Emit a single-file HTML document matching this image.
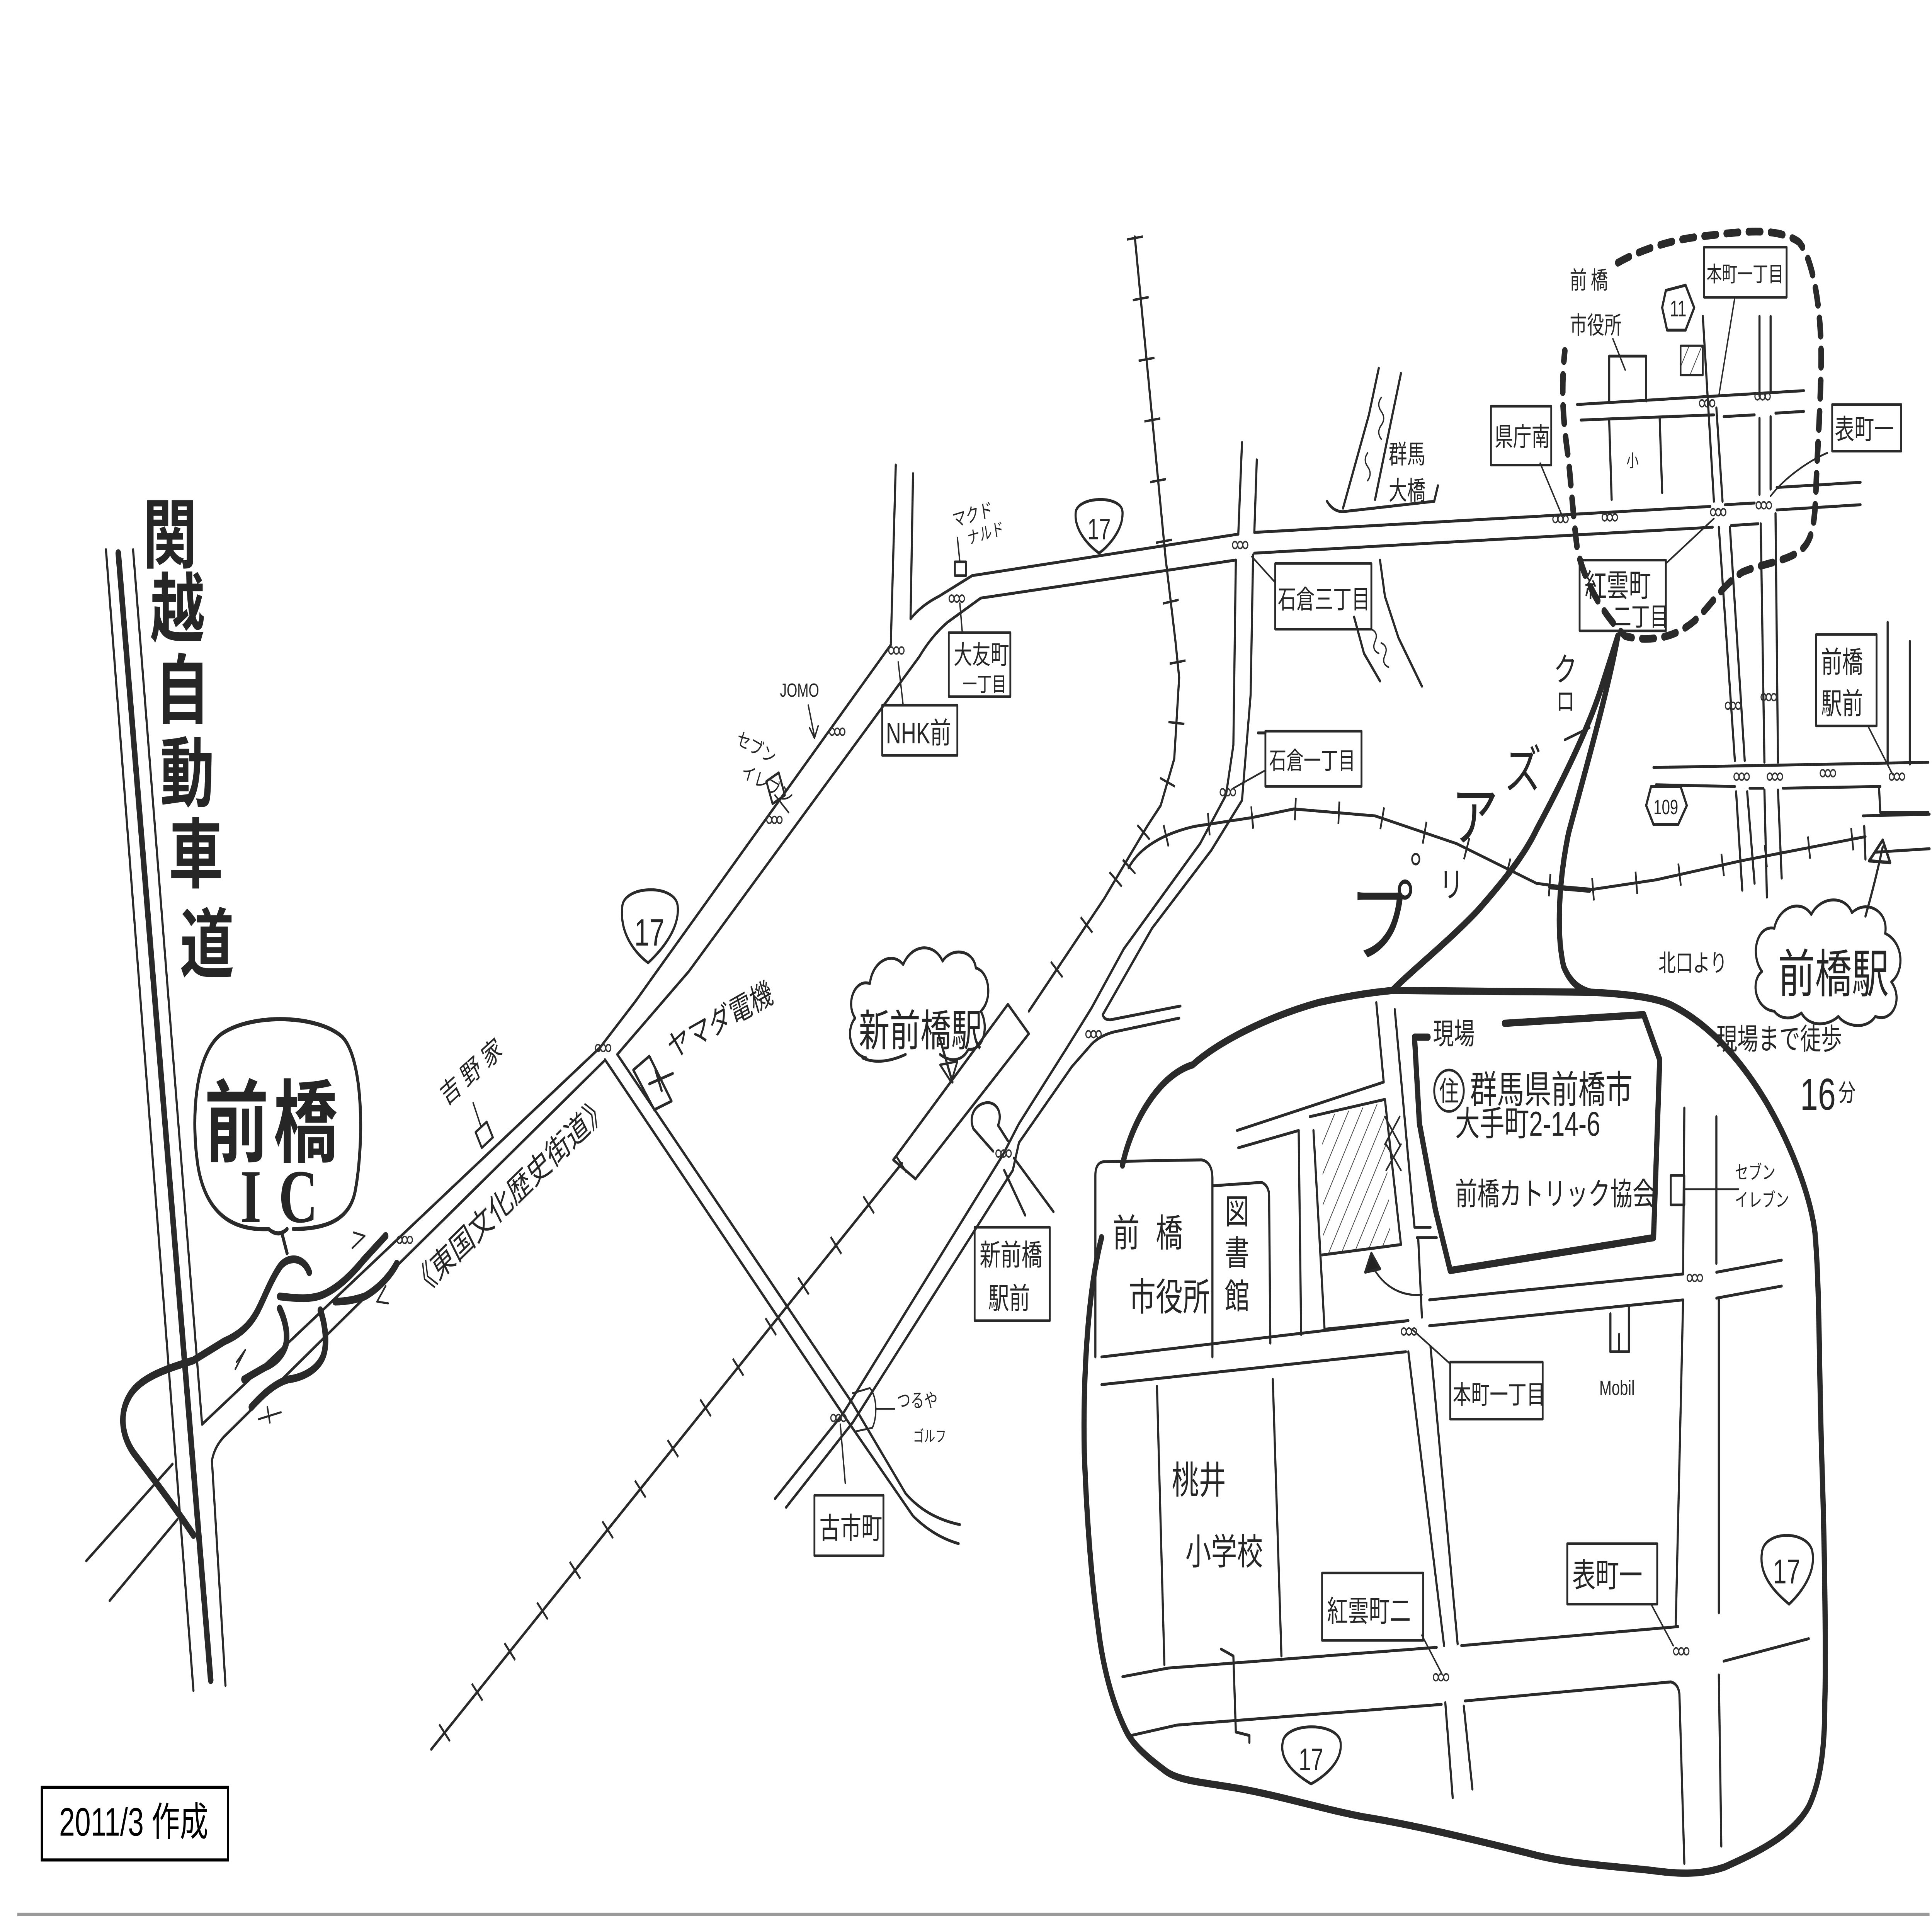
<!DOCTYPE html>
<html><head><meta charset="utf-8"><style>
html,body{margin:0;padding:0;background:#fff;width:100%;height:100%;overflow:hidden;}
svg{display:block;width:100vw;height:100vh;overflow:hidden;}
text{font-family:"Liberation Sans","Noto Sans CJK JP",sans-serif;fill:#262626;}
</style></head><body>
<svg xmlns="http://www.w3.org/2000/svg" viewBox="0 0 1568 1109" preserveAspectRatio="none">
<defs>
<g id="sg" fill="none" stroke="#333" stroke-width="0.9"><circle cx="2.3" cy="2.3" r="2"/><circle cx="6.5" cy="2.3" r="2"/><circle cx="10.7" cy="2.3" r="2"/></g>
<pattern id="ht" patternUnits="userSpaceOnUse" width="9" height="9" patternTransform="rotate(30)"><line x1="0" y1="0" x2="0" y2="9" stroke="#444" stroke-width="1.1"/></pattern>
</defs>
<rect width="1568" height="1109" fill="#fff"/>
<g fill="none" stroke="#2a2a2a" stroke-width="1.7" stroke-linecap="round" stroke-linejoin="round">
<!-- Kan-etsu expressway -->
<path d="M86,318 L157,978"/>
<path d="M96,320 L171,972" stroke-width="4.5"/>
<path d="M108,318 L164,824 L487,606 L516,579 L536,559 L723,373"/>
<path d="M183,975 L172,845 Q174,837 182,831 L490,614"/>
<path d="M501,610 L559,562 L746,380 Q756,368 769,360 L796,346 L1003,324"/>
<path d="M741,274 L739,358 Q748,350 762,345 L789,333 L1005,309"/>
<path d="M727,269 L723,372"/>
<path d="M70,903 L140,847"/>
<path d="M89,926 L144,879"/>
<!-- IC ramps -->
<g stroke-width="4.5">
<path d="M251,736 C247,728 236,726 228,732 C220,740 215,750 210,757 C204,766 195,772 182,776 L157,787 C135,792 112,797 104,809 C96,820 100,833 110,842 C125,856 142,872 157,888"/>
<path d="M227,750 C240,751 252,752 262,749 C275,745 287,736 295,729 L313,715"/>
<path d="M322,731 C316,739 306,746 296,750 C288,752 280,753 272,753"/>
<path d="M260,758 C264,766 266,778 262,785 C257,793 245,797 234,798 C224,800 214,806 204,814"/>
<path d="M227,757 C231,763 234,771 232,778 C229,785 222,789 215,791 L198,798"/>
</g>
<g stroke-width="1.2">
<path d="M287,713 L296,715 L286,722"/>
<path d="M306,753 L313,744 M306,753 L315,754"/>
<path d="M192,788 L199,781 L191,792"/>
<path d="M210,821 L228,817 M217,814 L219,823"/>
</g>
<!-- IC bubble -->
<path stroke-width="2.4" d="M238,711 C264,711 283,706 288,690 C295,665 296,614 278,600 C258,587 205,586 180,598 C157,610 155,650 161,676 C168,703 190,712 218,711"/>
<path stroke-width="2.4" d="M218,711 Q226,716 233,711 M229,714 L233,725"/>
<!-- shields -->
<path d="M505,525 C505,512 548,511 550,524 C552,538 535,551 526,557 C515,551 503,540 505,525 Z"/>
<path d="M873,297 C873,287 910,286 911,296 C912,307 898,317 892,320 C884,316 872,307 873,297 Z"/>
<path d="M1430,898 C1432,885 1468,885 1471,898 C1474,912 1458,924 1452,928 C1442,922 1427,912 1430,898 Z"/>
<path d="M1041,1008 C1043,996 1086,996 1088,1008 C1090,1020 1072,1029 1064,1032 C1055,1028 1038,1020 1041,1008 Z"/>
<path d="M1352,168 L1368,165 L1375,178 L1368,191 L1353,191 L1349,178 Z"/>
<path d="M1340,455 L1364,455 L1369,466 L1362,477 L1342,477 L1336,466 Z"/>
<!-- Yamada road -->
<path d="M491,613 L684,818 L741,877 Q758,889 778,893"/>
<path d="M501,610 L692,812 L735,864 Q752,878 779,882"/>
<path d="M514,619 L527,611 L545,637 L531,642 Z"/>
<path d="M527,627 L546,621 M532,619 L537,631"/>
<!-- Shin-Maebashi road -->
<path d="M629,867 L684,818 L814,668 L827,650 L866,606 L886,583 L912,549 L974,488 L995,460 L1001,431 L1003,324"/>
<path d="M638,872 L692,823 L822,677 L827,661 L870,617 L886,604 Q893,599 904,597 L957,589"/>
<path d="M958,582 L901,590 Q896,590 895,587 L935,537 L983,492 L1008,463 L1015,402 L1017,321"/>
<path d="M1008,256 L1005,309"/>
<path d="M1020,266 L1018,308"/>
<path d="M815,677 L832,703"/>
<path d="M823,670 L855,701"/>
<path d="M806,666 L790,653 C786,646 791,639 800,638 C809,637 814,644 810,651 L818,660"/>
<!-- railways -->
<path d="M921,137 L946,323 L954,371 L957,392 L953,439 L942,466 L931,478 L896,520 L835,585"/>
<path d="M732,673 L350,1012"/>
<g stroke-width="13" stroke-dasharray="1.4 34" stroke-linecap="butt">
<path d="M921,137 L946,323 L954,371 L957,392 L953,439 L942,466 L931,478 L896,520 L835,585"/>
<path d="M732,673 L350,1012"/>
<path d="M916,502 C925,490 945,482 970,478 L1016,473 L1050,468 L1116,472 L1182,488 L1247,511 L1288,515 L1344,509 L1413,498 L1514,484"/>
</g>
<path d="M818,581 L835,598 L743,682 L725,671 Z"/>
<path d="M916,502 C925,490 945,482 970,478 L1016,473 L1050,468 L1116,472 L1182,488 L1247,511 L1288,515 L1344,509 L1413,498 L1514,484"/>
<path d="M1258,513 L1290,515" stroke-width="3"/>
<!-- Maebashi station -->
<path d="M1512,472 L1566,471"/>
<path d="M1513,478 L1514,497 M1522,493 L1566,491"/>
<path d="M1525,455 L1526,470 L1565,470"/>
<path d="M1517,498 L1528,486 L1534,499 Z" stroke-width="1.9"/>
<path d="M1514,530 C1520,515 1524,503 1528,490"/>
<path d="M1532,360 L1532,442"/>
<path d="M1550,371 L1550,442"/>
<path d="M1342,444 L1565,441"/>
<path d="M1344,454 L1408,455 M1420,456 L1431,456 M1447,456 L1526,455"/>
<!-- clouds -->
<path d="M703,612 C690,610 686,596 694,589 C686,580 694,566 706,569 C708,556 724,550 733,558 C740,546 758,545 765,556 C772,548 790,549 792,560 C803,562 806,578 796,585 C803,594 798,608 786,607 C780,615 770,614 763,610 M700,612 C712,616 726,613 735,610"/>
<path d="M762,599 L773,626"/>
<path d="M763,616 L777,614 L772,626 Z" stroke-width="1.4"/>
<path d="M1440,585 C1425,584 1420,568 1430,562 C1420,552 1426,535 1440,537 C1444,524 1462,520 1470,529 C1478,518 1498,518 1503,528 C1515,520 1533,527 1530,540 C1545,545 1546,562 1535,568 C1545,578 1536,592 1522,588 C1515,596 1498,594 1492,588 C1483,594 1468,594 1462,586 C1455,590 1445,590 1440,585 Z"/>
<!-- big loop and pin -->
<g stroke-width="4.2">
<path d="M911,674 C918,650 940,622 968,616 C990,602 1030,588 1070,580 C1095,576 1115,574 1130,573 L1291,574"/>
<path d="M1130,573 C1145,562 1175,545 1199,527 C1220,510 1237,495 1247,480 C1268,452 1290,420 1300,397 L1313,368"/>
<path d="M1313,368 C1305,400 1285,450 1273,482 C1265,510 1263,540 1269,559 C1275,570 1285,573 1291,574"/>
<path d="M1291,574 C1320,575 1345,577 1358,582 C1385,592 1410,610 1433,637 C1452,660 1469,690 1473,713 C1477,745 1476,790 1479,854 C1481,900 1482,960 1481,985 C1481,1010 1478,1030 1468,1045 C1455,1062 1425,1072 1400,1080 C1380,1085 1360,1084 1340,1082 C1300,1079 1270,1078 1240,1072 C1200,1065 1150,1056 1106,1051 C1070,1046 1035,1038 1000,1034 C975,1031 955,1030 945,1024 C928,1015 918,1008 913,1000 C903,985 895,965 891,940 C886,915 882,880 880,840 C879,800 882,750 894,716"/>
<path d="M1159,600 L1148,600 L1152,650 L1165,700 L1177,735 L1342,716 L1347,613 L1334,587 L1221,592"/>
</g>
<!-- dashed loop -->
<path stroke-width="4.5" stroke-dasharray="10 8" d="M1313,152 C1330,145 1355,139 1378,137 C1405,135 1440,130 1460,140 C1472,150 1478,180 1478,206 C1478,230 1475,260 1474,280 C1473,300 1472,312 1462,318 C1450,325 1430,326 1414,331 C1395,340 1385,355 1370,362 C1355,370 1335,371 1319,368 C1300,355 1285,335 1280,317 C1277,300 1275,280 1273,266 C1270,250 1266,230 1270,203"/>
<!-- label boxes -->
<g stroke-width="1.5">
<rect x="1210" y="235" width="49" height="34"/>
<rect x="1383" y="143" width="67" height="29"/>
<rect x="1487" y="234" width="56" height="27"/>
<rect x="1282" y="324" width="70" height="41"/>
<rect x="1474" y="367" width="49" height="53"/>
<rect x="1035" y="326" width="78" height="38"/>
<rect x="1027" y="423" width="78" height="32"/>
<rect x="770" y="366" width="50" height="37"/>
<rect x="716" y="408" width="61" height="29"/>
<rect x="791" y="710" width="61" height="54"/>
<rect x="661" y="865" width="56" height="35"/>
<rect x="1177" y="788" width="75" height="33"/>
<rect x="1073" y="910" width="82" height="39"/>
<rect x="1272" y="893" width="73" height="35"/>
<rect x="775" y="325" width="9" height="8"/>
<rect x="1356" y="680" width="11" height="17"/>
<path d="M622,452 L632,447 L637,460 L627,465 Z"/>
<path d="M386,655 L395,649 L400,658 L391,664 Z"/>
</g>
<!-- leaders -->
<g stroke-width="1.1">
<path d="M1250,268 L1267,297"/>
<path d="M1408,172 L1395,229"/>
<path d="M1483,262 C1470,266 1450,275 1437,287"/>
<path d="M1352,326 L1391,300"/>
<path d="M1516,420 L1536,448"/>
<path d="M1016,322 L1035,337"/>
<path d="M1026,446 L1001,456"/>
<path d="M779,349 L781,366"/>
<path d="M729,383 L733,408"/>
<path d="M682,824 L686,858"/>
<path d="M1146,769 L1177,789"/>
<path d="M1154,946 L1170,968"/>
<path d="M1318,928 L1340,928 L1358,952"/>
<path d="M1309,196 L1319,214"/>
<path d="M777,311 L779,325"/>
<path d="M1367,688 L1411,688"/>
<path d="M656,408 L661,426 M657,421 L661,427 L664,420"/>
<path d="M384,638 L390,651"/>
<path d="M692,806 L706,803 C712,808 712,820 708,826 L695,828 M711,815 L726,815"/>
<path d="M629,460 L640,470"/>
</g>
<!-- top right grid -->
<path d="M1280,234 L1464,226"/>
<path d="M1283,243 L1391,240 M1399,241 L1424,240 M1441,239 L1464,238"/>
<path d="M1306,243 L1308,289"/>
<path d="M1347,242 L1349,285"/>
<path d="M1306,232 L1306,206 L1336,206 L1336,232"/>
<rect x="1364" y="200" width="18" height="17" fill="url(#ht)" stroke-width="1.3"/>
<path d="M1382,183 L1391,290"/>
<path d="M1393,236 L1398,290"/>
<path d="M1428,183 L1428,229 M1428,242 L1428,286"/>
<path d="M1437,183 L1437,226 M1437,241 L1437,283"/>
<path d="M1018,308 L1388,293"/>
<path d="M1018,320 L1390,305"/>
<path d="M1400,292 L1424,291 M1405,304 L1427,303"/>
<path d="M1442,282 L1510,279"/>
<path d="M1442,295 L1510,292"/>
<path d="M1395,305 L1408,440 M1409,458 L1414,515"/>
<path d="M1404,305 L1416,440 M1418,458 L1424,511"/>
<path d="M1429,303 L1432,441 M1432,457 L1434,519"/>
<path d="M1441,297 L1443,441 M1443,457 L1446,508"/>
<path d="M1119,213 L1111,240 L1090,294"/>
<path d="M1137,216 L1126,254 L1116,289"/>
<path d="M1077,290 Q1082,296 1090,296 L1164,290 L1167,281"/>
<path stroke-width="1" d="M1121,230 q-4,4 0,8 q4,4 0,8 q-4,4 0,8 M1110,262 q-4,4 0,8 q4,4 0,8"/>
<path d="M1120,324 L1124,345 L1135,369 L1154,397"/>
<path d="M1099,357 L1107,378 L1120,394"/>
<path stroke-width="1" d="M1113,364 q6,2 3,7 q-3,5 3,7 M1121,372 q6,2 3,7 q-3,5 3,7"/>
<path d="M1021,424 L1027,424"/>
<!-- lower right block -->
<path d="M1004,654 L1123,626 L1117,580"/>
<path d="M1132,584 L1148,710 L1161,710"/>
<path d="M1005,664 L1054,654"/>
<path d="M1054,654 L1056,772"/>
<path d="M1073,646 L1123,638 L1129,720 L1074,726 Z" fill="url(#ht)" stroke="none"/>
<path d="M1066,654 L1075,769 L1143,764"/>
<path d="M1063,646 L1124,636 L1137,720"/>
<path d="M1073,726 L1137,720"/>
<path stroke-width="1.2" d="M1124,646 L1136,662 M1136,646 L1124,662 M1125,662 L1137,677 M1137,662 L1125,677"/>
<path stroke-width="1.2" d="M1154,749 C1140,750 1125,746 1115,734"/>
<path d="M1108,736 L1113,725 L1120,734 Z" fill="#222"/>
<path d="M1150,716 L1166,716 M1151,716 L1154,762"/>
<path d="M889,785 L889,680 Q889,672 897,672 L975,671 Q984,672 984,682 L984,785"/>
<path d="M984,686 L1024,684 Q1030,686 1030,692 L1031,777"/>
<path d="M894,785 L1143,764"/>
<path d="M894,801 L1141,782"/>
<path d="M1160,752 L1366,737"/>
<path d="M1160,767 L1366,752"/>
<path d="M1393,736 L1446,729"/>
<path d="M1393,751 L1446,744"/>
<path d="M1143,782 L1172,952"/>
<path d="M1161,779 L1183,951"/>
<path d="M1173,985 L1179,1040"/>
<path d="M1188,987 L1195,1035"/>
<path d="M911,970 L948,965 L1166,953"/>
<path d="M918,1004 L955,998 L1170,986"/>
<path d="M1186,952 L1362,941"/>
<path d="M1189,984 L1356,973 Q1362,974 1363,980 L1367,1078"/>
<path d="M1399,961 L1468,948"/>
<path d="M1367,641 L1366,737 M1366,752 L1360,941"/>
<path d="M1393,646 L1393,731"/>
<path d="M1395,752 L1395,933"/>
<path d="M1395,969 L1397,1068"/>
<path d="M939,802 L945,963"/>
<path d="M1033,798 L1040,958"/>
<path d="M991,954 L1001,958 L1003,1002 L1014,1004 L1014,1008"/>
<path d="M1307,760 L1307,782 L1322,782 L1322,756 M1314,772 L1314,782"/>
<circle cx="1176" cy="631" r="12" stroke-width="1.5"/>
<path d="M1290,421 L1270,428" stroke-width="1.6"/>
<circle cx="1149" cy="497" r="3" stroke-width="1.3"/>
<!-- scan edge -->
<path d="M14,1107.5 L1566,1107.5" stroke="#9a9a9a" stroke-width="2" stroke-linecap="butt"/>
</g>
<!-- signals -->
<g>
<use href="#sg" x="322" y="715"/><use href="#sg" x="483" y="604"/><use href="#sg" x="622" y="472"/>
<use href="#sg" x="673" y="421"/><use href="#sg" x="721" y="374"/><use href="#sg" x="770" y="344"/>
<use href="#sg" x="1000" y="313"/><use href="#sg" x="990" y="456"/><use href="#sg" x="881" y="596"/>
<use href="#sg" x="808" y="665"/><use href="#sg" x="674" y="818"/><use href="#sg" x="1260" y="298"/>
<use href="#sg" x="1300" y="297"/><use href="#sg" x="1379" y="231"/><use href="#sg" x="1424" y="227"/>
<use href="#sg" x="1388" y="294"/><use href="#sg" x="1425" y="290"/><use href="#sg" x="1400" y="406"/>
<use href="#sg" x="1429" y="401"/><use href="#sg" x="1407" y="447"/><use href="#sg" x="1434" y="447"/>
<use href="#sg" x="1477" y="445"/><use href="#sg" x="1533" y="447"/><use href="#sg" x="1137" y="768"/>
<use href="#sg" x="1163" y="968"/><use href="#sg" x="1358" y="953"/><use href="#sg" x="1369" y="737"/>
</g>
<!-- text -->
<g font-weight="bold" font-size="44" text-anchor="middle">
<text x="138" y="325">関</text>
<text x="144" y="368">越</text>
<text x="148" y="415">自</text>
<text x="152" y="463">動</text>
<text x="159" y="510">車</text>
<text x="168" y="562">道</text>
</g>
<text x="166" y="668" font-size="52" font-weight="bold" letter-spacing="4">前橋</text>
<text x="195" y="707" font-size="44" font-weight="bold" letter-spacing="14" style="font-family:'Liberation Serif',serif">IC</text>
<text transform="translate(340,752) rotate(-35)" font-size="19">《東国文化歴史街道》</text>
<text transform="translate(362,640) rotate(-33)" font-size="16" letter-spacing="4">吉野家</text>
<text transform="translate(545,613) rotate(-22)" font-size="18">ヤマダ電機</text>
<text transform="translate(597,430) rotate(22)" font-size="11">セブン</text>
<text transform="translate(601,449) rotate(22)" font-size="11">イレブン</text>
<text x="633" y="403" font-size="11">JOMO</text>
<text transform="translate(774,305) rotate(-12)" font-size="11">マクド</text>
<text transform="translate(786,315) rotate(-12)" font-size="10">ナルド</text>
<text x="774" y="384" font-size="15">大友町</text>
<text x="781" y="400" font-size="12">一丁目</text>
<text x="719" y="430" font-size="17">NHK前</text>
<text x="527" y="547" font-size="22" text-anchor="middle">17</text>
<text x="892" y="312" font-size="17" text-anchor="middle">17</text>
<text x="1450" y="916" font-size="20" text-anchor="middle">17</text>
<text x="1064" y="1024" font-size="18" text-anchor="middle">17</text>
<text x="1362" y="183" font-size="13" text-anchor="middle">11</text>
<text x="1352" y="471" font-size="12" text-anchor="middle">109</text>
<text x="697" y="605" font-size="25">新前橋駅</text>
<text x="795" y="732" font-size="17">新前橋</text>
<text x="802" y="757" font-size="17">駅前</text>
<text x="665" y="890" font-size="17">古市町</text>
<text x="728" y="814" font-size="11">つるや</text>
<text x="741" y="834" font-size="9">ゴルフ</text>
<text x="1037" y="352" font-size="15">石倉三丁目</text>
<text x="1030" y="445" font-size="14">石倉一丁目</text>
<text x="1127" y="268" font-size="15">群馬</text>
<text x="1127" y="289" font-size="15">大橋</text>
<text x="1213" y="258" font-size="15">県庁南</text>
<text x="1385" y="163" font-size="12.5">本町一丁目</text>
<text x="1489" y="254" font-size="16">表町一</text>
<text x="1286" y="345" font-size="18">紅雲町</text>
<text x="1309" y="362" font-size="15">二丁目</text>
<text x="1478" y="389" font-size="17">前橋</text>
<text x="1478" y="413" font-size="17">駅前</text>
<text x="1274" y="167" font-size="14" letter-spacing="3">前橋</text>
<text x="1274" y="193" font-size="14">市役所</text>
<text x="1320" y="270" font-size="10">小</text>
<text x="1261" y="394" font-size="19">ク</text>
<text x="1263" y="411" font-size="15">ロ</text>
<text x="1221" y="456" font-size="30">ズ</text>
<text x="1178" y="486" font-size="38">ア</text>
<text x="1168" y="519" font-size="20">リ</text>
<text x="1095" y="552" font-size="52">プ</text>
<text x="1443" y="574" font-size="30">前橋駅</text>
<text x="1346" y="562" font-size="14">北口より</text>
<text x="1393" y="607" font-size="17">現場まで徒歩</text>
<text x="1461" y="642" font-size="26">16</text>
<text x="1492" y="637" font-size="14">分</text>
<text x="1163" y="604" font-size="17">現場</text>
<text x="1176" y="637" font-size="16" text-anchor="middle">住</text>
<text x="1193" y="638" font-size="22">群馬県前橋市</text>
<text x="1181" y="657" font-size="20">大手町2-14-6</text>
<text x="1181" y="697" font-size="18">前橋カトリック協会</text>
<text x="1408" y="682" font-size="11">セブン</text>
<text x="1408" y="698" font-size="11">イレブン</text>
<text x="1298" y="807" font-size="12">Mobil</text>
<text x="1179" y="812" font-size="15">本町一丁目</text>
<text x="1077" y="938" font-size="17">紅雲町二</text>
<text x="1276" y="918" font-size="19">表町一</text>
<text x="951" y="864" font-size="22">桃井</text>
<text x="962" y="905" font-size="21">小学校</text>
<text x="903" y="721" font-size="22" letter-spacing="13">前橋</text>
<text x="916" y="758" font-size="22">市役所</text>
<text x="1004" y="708" font-size="20" text-anchor="middle">図</text>
<text x="1004" y="732" font-size="20" text-anchor="middle">書</text>
<text x="1004" y="757" font-size="20" text-anchor="middle">館</text>
<!-- created box -->
<rect x="34" y="1034" width="151" height="42" fill="#fff" stroke="#000" stroke-width="1.8"/>
<text x="48" y="1062" font-size="23" style="fill:#000">2011/3 作成</text>
</svg>
</body></html>
